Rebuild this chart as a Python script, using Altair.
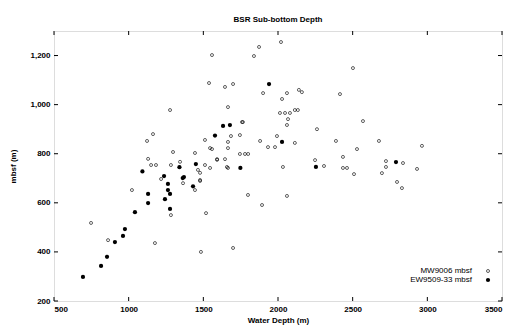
import altair as alt
import pandas as pd

# MW9006 mbsf (open markers)
mw_x = [748, 862, 1022, 1123, 1130, 1150, 1183, 1283, 1217, 1283, 1277, 1665, 1759, 1163,
        1511, 1297, 1444, 1545, 1665, 1745, 1779, 1800, 1344, 1592, 1658, 1545, 1464, 1478,
        1364, 1444, 1799, 1665, 1685, 1745, 1880, 1993, 2113, 1933, 1980, 1558, 1592, 1645,
        1665, 1511, 1478, 1478, 2033, 2060, 1893, 1518, 1699, 1484, 1176, 2020, 1873, 1558,
        1839, 1538, 1645, 1699, 1900, 2060, 2140, 2027, 2013, 2047, 2080, 2113, 2133, 2067,
        2060, 1765, 2502, 2415, 2160, 2569, 2261, 2388, 2676, 2529, 2964, 2435, 2248, 2308,
        2435, 2462, 2509, 2723, 2723, 2837, 2931, 2696, 2797, 2830]
mw_y = [518, 448, 652, 852, 779, 754, 754, 754, 697, 550, 978, 990, 929, 880,
        856, 807, 803, 823, 823, 799, 799, 799, 767, 775, 746, 742, 734, 693,
        680, 652, 632, 848, 872, 876, 852, 872, 844, 827, 827, 819, 778, 778,
        742, 754, 722, 689, 746, 628, 591, 558, 416, 400, 436, 1255, 1235, 1202,
        1198, 1088, 1072, 1084, 1047, 1047, 1060, 1023, 966, 966, 966, 978, 978, 941,
        917, 929, 1149, 1043, 1051, 933, 900, 852, 852, 819, 832, 787, 774, 750,
        742, 742, 717, 770, 746, 762, 738, 721, 685, 660]

# EW9509-33 mbsf (filled markers)
ew_x = [694, 815, 855, 908, 962, 975, 1042, 1092, 1130, 1130, 1237, 1263, 1277, 1243,
        1277, 1340, 1362, 1431, 1450, 1578, 1632, 1678, 1748, 1940, 2027, 2254, 2790,
        1263, 1370]
ew_y = [298, 343, 380, 440, 465, 493, 562, 728, 636, 599, 709, 677, 636, 615,
        575, 745, 701, 667, 758, 874, 913, 917, 742, 1084, 848, 746, 766,
        652, 705]

x_ticks = [500, 1000, 1500, 2000, 2500, 3000, 3500]
y_ticks = [200, 400, 600, 800, 1000, 1200]

W, H = 448, 270
FONT = "Liberation Sans"

df = pd.concat([
    pd.DataFrame({"x": mw_x, "y": mw_y, "s": "MW9006 mbsf"}),
    pd.DataFrame({"x": ew_x, "y": ew_y, "s": "EW9509-33 mbsf"}),
])
xt = pd.DataFrame({"v": x_ticks})
yt = pd.DataFrame({"v": y_ticks})

xs = alt.Scale(domain=[500, 3500], nice=False, zero=False)
ys = alt.Scale(domain=[200, 1300], nice=False, zero=False)

common = dict(ticks=False, domain=False, grid=False, labelPadding=4,
              labelFont=FONT, labelFontSize=8, labelColor="black", labelFontWeight="bold",
              titleFont=FONT, titleFontSize=8, titleColor="black", titleFontWeight="bold")
xaxis = alt.Axis(values=x_ticks, format="d", title="Water Depth (m)", titlePadding=3, **common)
yaxis = alt.Axis(values=y_ticks, format=",d", title="mbsf (m)", titlePadding=12, **common)

mw = alt.Chart(df[df.s == "MW9006 mbsf"]).mark_point(
    shape="circle", size=9, filled=False, color="black", strokeWidth=0.9
).encode(x=alt.X("x:Q", scale=xs, axis=xaxis), y=alt.Y("y:Q", scale=ys, axis=yaxis))

ew = alt.Chart(df[df.s == "EW9509-33 mbsf"]).mark_point(
    shape="circle", size=18, filled=True, color="black", opacity=1
).encode(x=alt.X("x:Q", scale=xs), y=alt.Y("y:Q", scale=ys))

tl = alt.Chart(yt).mark_rule(color="black").encode(
    y=alt.Y("v:Q", scale=ys), x=alt.value(0), x2=alt.value(4))
tr = alt.Chart(yt).mark_rule(color="black").encode(
    y=alt.Y("v:Q", scale=ys), x=alt.value(W - 4), x2=alt.value(W))
tb = alt.Chart(xt).mark_rule(color="black").encode(
    x=alt.X("v:Q", scale=xs), y=alt.value(H - 4), y2=alt.value(H))
tt = alt.Chart(xt).mark_rule(color="black").encode(
    x=alt.X("v:Q", scale=xs), y=alt.value(0), y2=alt.value(4))

leg_df = pd.DataFrame({"s": ["MW9006 mbsf", "EW9509-33 mbsf"]})
leg1 = alt.Chart(leg_df.iloc[[0]]).mark_text(
    align="right", baseline="middle", fontSize=8, font=FONT, color="black"
).encode(text="s:N", x=alt.value(418), y=alt.value(240))
leg2 = alt.Chart(leg_df.iloc[[1]]).mark_text(
    align="right", baseline="middle", fontSize=8, font=FONT, color="black"
).encode(text="s:N", x=alt.value(418), y=alt.value(249))
ls1 = alt.Chart(leg_df.iloc[[0]]).mark_point(
    shape="circle", size=9, filled=False, color="black", strokeWidth=0.9
).encode(x=alt.value(434), y=alt.value(240))
ls2 = alt.Chart(leg_df.iloc[[1]]).mark_point(
    shape="circle", size=18, filled=True, color="black", opacity=1
).encode(x=alt.value(434), y=alt.value(249))

chart = alt.layer(mw, ew, tl, tr, tb, tt, leg1, leg2, ls1, ls2).properties(
    width=W, height=H,
    title=alt.TitleParams("BSR Sub-bottom Depth", fontSize=8, font=FONT,
                          fontWeight="bold", offset=7, anchor="middle"),
    autosize=alt.AutoSizeParams(type="none"),
    padding={"left": 46, "top": 23, "right": 2, "bottom": 29},
).configure_view(stroke="black", strokeWidth=1.2).configure(background="white")

chart.save("out.html", embed_options={"renderer": "svg", "actions": False})
